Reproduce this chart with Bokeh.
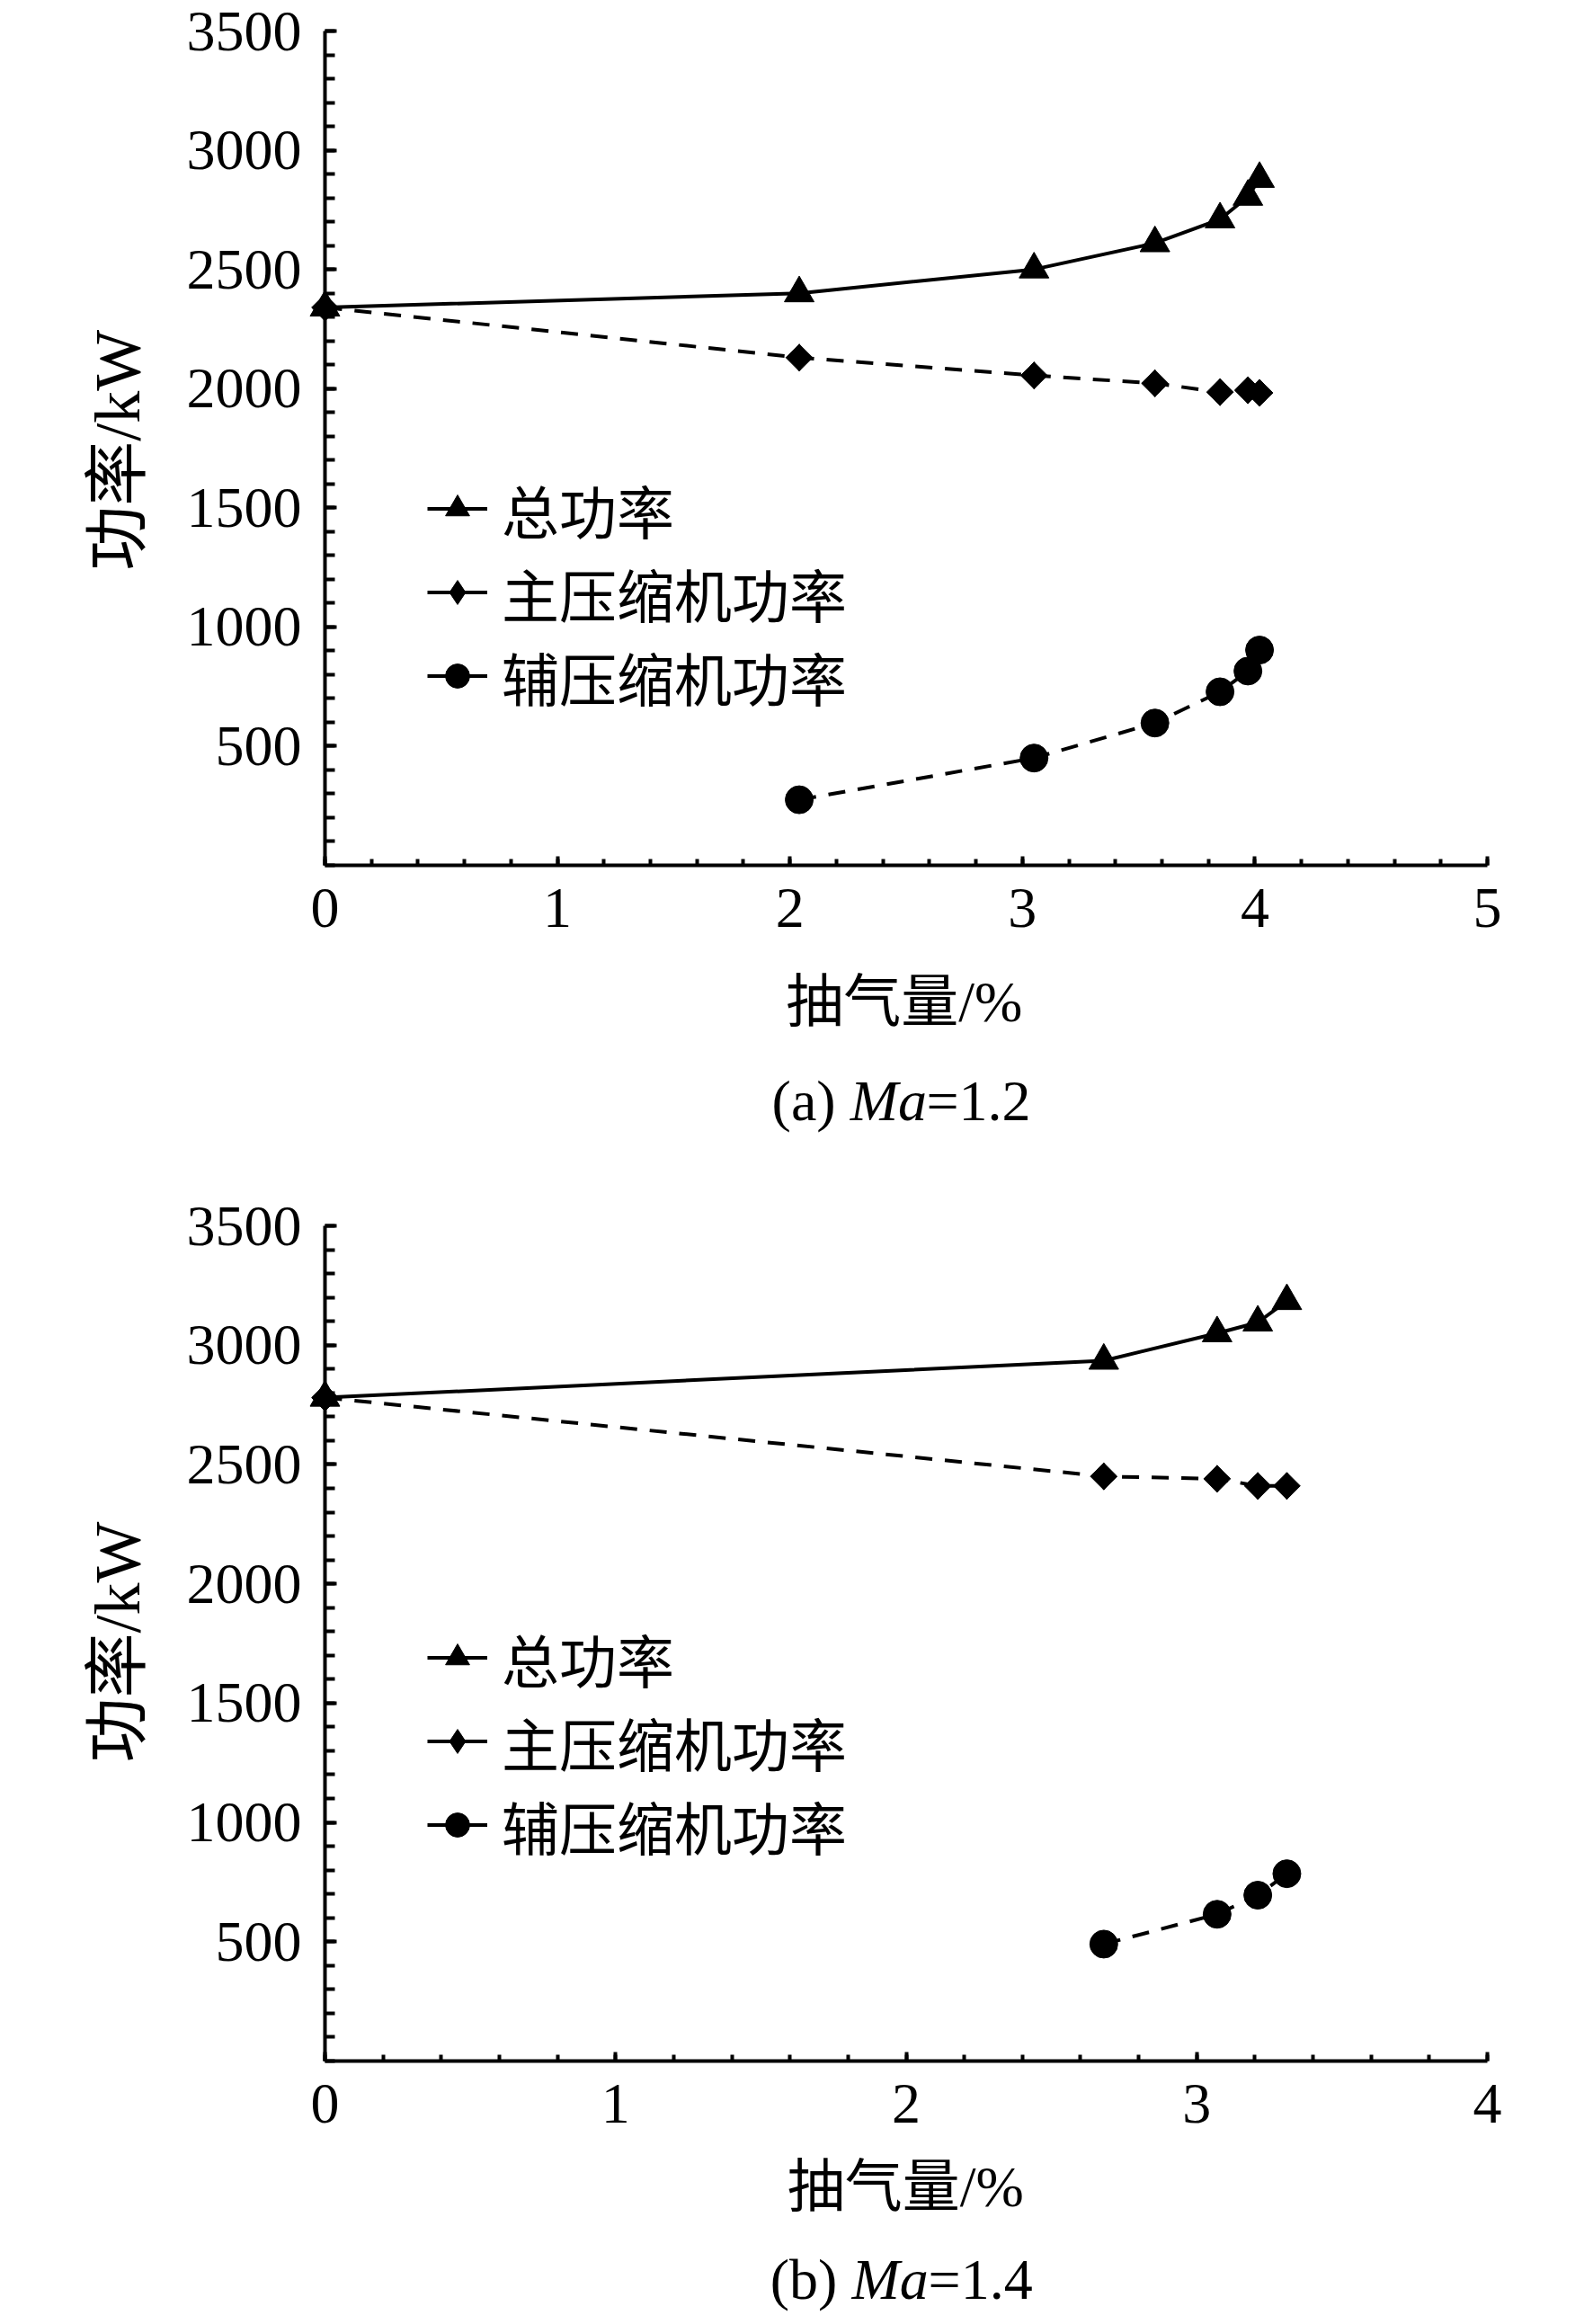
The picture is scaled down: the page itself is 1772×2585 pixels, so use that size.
import numpy as np
from bokeh.plotting import figure
from bokeh.models import Range1d, FixedTicker, SingleIntervalTicker, Legend, LegendItem
from bokeh.core.properties import value
from bokeh.layouts import column
from bokeh.embed import file_html
from bokeh.resources import INLINE

# ---------------- data ----------------
# (a) Ma=1.2
a_x = [0, 2.04, 3.05, 3.57, 3.85, 3.97, 4.02]
a_total = [2340, 2400, 2500, 2610, 2710, 2805, 2880]
a_main = [2340, 2130, 2055, 2022, 1985, 1993, 1982]
a_aux_x = [2.04, 3.05, 3.57, 3.85, 3.97, 4.02]
a_aux = [275, 450, 597, 728, 815, 903]

# (b) Ma=1.4
b_x = [0, 2.68, 3.07, 3.21, 3.31]
b_total = [2780, 2935, 3050, 3095, 3185]
b_main = [2780, 2450, 2440, 2410, 2410]
b_aux_x = [2.68, 3.07, 3.21, 3.31]
b_aux = [490, 615, 695, 785]

y_ticks = [500, 1000, 1500, 2000, 2500, 3000, 3500]
y_minor = list(range(0, 3501, 100))
legend_labels = ["总功率", "主压缩机功率", "辅压缩机功率"]
x_title = "抽气量/%"
y_title = "功率/kW"

SERIF = "'Liberation Serif', 'Times New Roman', serif"
MIXED = "'Liberation Serif', 'Noto Sans CJK SC'"
CJK = "'Noto Sans CJK SC'"
DASH = "19 14"


def add_text(p, x, y, txt, font, align="center", angle=0.0, style="normal", size="64px"):
    p.text(x=[x], y=[y], text=[txt], text_font=value(font), text_font_size=value(size),
           text_font_style=style, text_align=align, text_baseline="middle",
           angle=angle, text_color="black", level="overlay")


def make_fig(height, xmax, top, bottom, right, x, total, main, aux_x, aux,
             xlab_pos, ylab_pos, cap_pos, cap_tag, cap_val, leg_loc):
    p = figure(width=1756, height=height,
               x_range=Range1d(0, xmax), y_range=Range1d(0, 3500),
               output_backend="svg", toolbar_location=None,
               min_border_left=361, min_border_right=right,
               min_border_top=top, min_border_bottom=bottom)
    p.outline_line_color = None
    p.grid.visible = False
    p.background_fill_color = "white"
    p.border_fill_color = "white"

    p.xaxis.ticker = SingleIntervalTicker(interval=1, num_minor_ticks=5)
    p.yaxis.ticker = FixedTicker(ticks=y_ticks, minor_ticks=y_minor)
    for ax in (p.xaxis, p.yaxis):
        ax.axis_line_width = 4
        ax.axis_line_color = "black"
        ax.major_tick_line_width = 4
        ax.minor_tick_line_width = 4
        ax.major_tick_line_color = "black"
        ax.minor_tick_line_color = "black"
        ax.major_tick_out = 0
        ax.minor_tick_out = 0
        ax.major_label_text_font = SERIF
        ax.major_label_text_font_size = "64px"
        ax.major_label_text_color = "black"
    p.yaxis.major_tick_in = 13
    p.yaxis.minor_tick_in = 11
    p.yaxis.major_label_standoff = 26
    p.xaxis.major_tick_in = 10
    p.xaxis.minor_tick_in = 7
    p.xaxis.major_label_standoff = 26

    # series lines
    l1 = p.line(x, total, line_width=4, line_color="black")
    p.line(x, main, line_width=4, line_color="black", line_dash=DASH)
    p.line(aux_x, aux, line_width=4, line_color="black", line_dash=DASH)
    # markers
    s1 = p.scatter(x, total, marker="triangle", size=33, color="black", level="overlay")
    s2_leg = p.scatter(x, main, marker="diamond", size=30, color="black")
    p.scatter(x, main, marker="square", size=21, angle=np.pi / 4, color="black", level="overlay")
    s3 = p.scatter(aux_x, aux, marker="circle", size=31, color="black", level="overlay")

    legend = Legend(items=[LegendItem(label=legend_labels[0], renderers=[l1, s1]),
                           LegendItem(label=legend_labels[1], renderers=[l1, s2_leg]),
                           LegendItem(label=legend_labels[2], renderers=[l1, s3])],
                    location=leg_loc, orientation="vertical",
                    glyph_width=67, glyph_height=93, label_height=93,
                    label_standoff=16, spacing=-5, padding=0, margin=0,
                    label_text_font=CJK, label_text_font_size="64px",
                    label_text_color="black",
                    border_line_color=None, background_fill_alpha=0)
    p.add_layout(legend, "center")

    # axis titles
    add_text(p, xlab_pos[0], xlab_pos[1], x_title, MIXED)
    add_text(p, ylab_pos[0], ylab_pos[1], y_title, MIXED, angle=np.pi / 2, size="72px")
    # caption "(a) Ma=1.2"
    add_text(p, cap_pos[0], cap_pos[3], cap_tag, SERIF, align="right")
    add_text(p, cap_pos[1], cap_pos[3], "Ma", SERIF, align="left", style="italic")
    add_text(p, cap_pos[2], cap_pos[3], cap_val, SERIF, align="left")
    return p


p1 = make_fig(1290, 5, 34, 328, 98, a_x, a_total, a_main, a_aux_x, a_aux,
              xlab_pos=(2.491, -572), ylab_pos=(-0.8905, 1741),
              cap_pos=(2.197, 2.259, 2.587, -987), cap_tag="(a)", cap_val="=1.2",
              leg_loc=(114, 164))
p2 = make_fig(1295, 4, 73, 293, 102, b_x, b_total, b_main, b_aux_x, b_aux,
              xlab_pos=(1.998, -527), ylab_pos=(-0.7146, 1756),
              cap_pos=(1.763, 1.813, 2.076, -915), cap_tag="(b)", cap_val="=1.4",
              leg_loc=(114, 216))

layout = column(p1, p2, spacing=0)
open("out.html", "w").write(file_html(layout, INLINE))
